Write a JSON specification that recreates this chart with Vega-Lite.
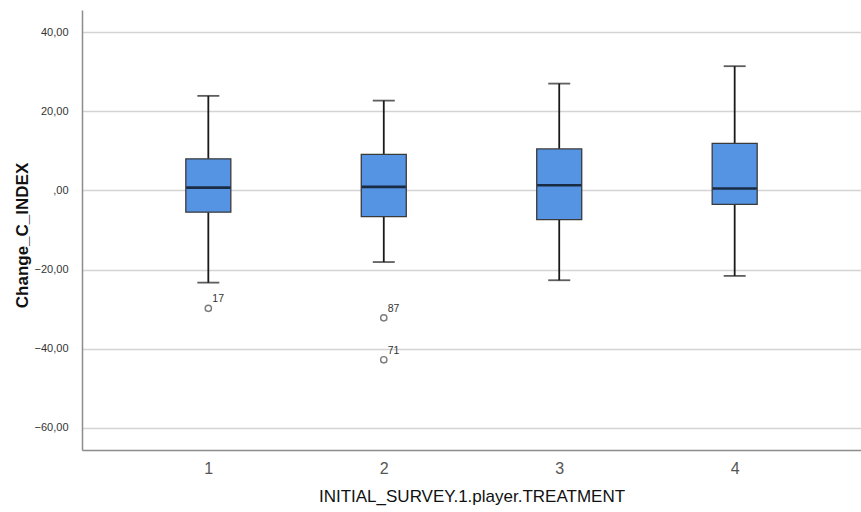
{
  "$schema": "https://vega.github.io/schema/vega-lite/v6.json",
  "width": 779,
  "height": 440,
  "autosize": {"type": "none"},
  "padding": {"left": 82, "top": 10, "right": 0, "bottom": 62},
  "background": "white",
  "config": {"view": {"stroke": null}, "font": "Liberation Sans"},
  "datasets": {
    "boxes": [
      {"treatment": "1", "lower": -23.3, "q1": -5.5, "median": 0.7, "q3": 8.0, "upper": 23.9},
      {"treatment": "2", "lower": -18.1, "q1": -6.6, "median": 0.9, "q3": 9.1, "upper": 22.7},
      {"treatment": "3", "lower": -22.7, "q1": -7.4, "median": 1.3, "q3": 10.5, "upper": 27.0},
      {"treatment": "4", "lower": -21.6, "q1": -3.5, "median": 0.5, "q3": 11.9, "upper": 31.4}
    ],
    "outliers": [
      {"treatment": "1", "value": -29.8, "case": "17"},
      {"treatment": "2", "value": -32.2, "case": "87"},
      {"treatment": "2", "value": -42.8, "case": "71"}
    ]
  },
  "layer": [
    {
      "data": {"name": "boxes"},
      "mark": {"type": "rule", "color": "#1a1a1a", "strokeWidth": 1.8},
      "encoding": {
        "x": {
          "field": "treatment", "type": "nominal",
          "scale": {"type": "point", "padding": 0.72, "domain": ["1", "2", "3", "4"]},
          "axis": {
            "title": "INITIAL_SURVEY.1.player.TREATMENT",
            "titleFontSize": 17, "titleFontWeight": "normal", "titleColor": "#111",
            "titlePadding": 12,
            "labelFontSize": 16, "labelColor": "#555", "labelPadding": 10, "labelAngle": 0,
            "ticks": false, "domainColor": "#8c8c8c", "domainWidth": 1.5, "grid": false
          }
        },
        "y": {
          "field": "lower", "type": "quantitative",
          "scale": {"domain": [-65.6, 45.6], "nice": false, "zero": false},
          "axis": {
            "title": "Change_C_INDEX",
            "titleFontSize": 17, "titleFontWeight": "bold", "titleColor": "#111",
            "titleX": -60, "titleY": 225, "titleBaseline": "middle",
            "values": [-60, -40, -20, 0, 20, 40],
            "labelExpr": "datum.value == 0 ? ',00' : replace(format(datum.value, '.2f'), '.', ',')",
            "labelFontSize": 11, "labelColor": "#333", "labelPadding": 14,
            "ticks": false, "domainColor": "#8c8c8c", "domainWidth": 1.5,
            "grid": true, "gridColor": "#d4d4d4", "gridWidth": 1.5
          }
        },
        "y2": {"field": "q1"}
      }
    },
    {
      "data": {"name": "boxes"},
      "mark": {"type": "rule", "color": "#1a1a1a", "strokeWidth": 1.8},
      "encoding": {
        "x": {"field": "treatment", "type": "nominal"},
        "y": {"field": "q3", "type": "quantitative"},
        "y2": {"field": "upper"}
      }
    },
    {
      "data": {"name": "boxes"},
      "mark": {"type": "tick", "orient": "horizontal", "color": "#1a1a1a", "size": 22, "thickness": 1.8},
      "encoding": {
        "x": {"field": "treatment", "type": "nominal"},
        "y": {"field": "upper", "type": "quantitative"}
      }
    },
    {
      "data": {"name": "boxes"},
      "mark": {"type": "tick", "orient": "horizontal", "color": "#1a1a1a", "size": 22, "thickness": 1.8},
      "encoding": {
        "x": {"field": "treatment", "type": "nominal"},
        "y": {"field": "lower", "type": "quantitative"}
      }
    },
    {
      "data": {"name": "boxes"},
      "mark": {"type": "bar", "size": 45, "fill": "#5594e2", "stroke": "#3a3a3a", "strokeWidth": 1.3},
      "encoding": {
        "x": {"field": "treatment", "type": "nominal"},
        "y": {"field": "q1", "type": "quantitative"},
        "y2": {"field": "q3"}
      }
    },
    {
      "data": {"name": "boxes"},
      "mark": {"type": "tick", "orient": "horizontal", "color": "#000000", "size": 44, "thickness": 2.6},
      "encoding": {
        "x": {"field": "treatment", "type": "nominal"},
        "y": {"field": "median", "type": "quantitative"}
      }
    },
    {
      "data": {"name": "outliers"},
      "mark": {"type": "point", "shape": "circle", "size": 40, "filled": false, "stroke": "#444", "strokeWidth": 1.4},
      "encoding": {
        "x": {"field": "treatment", "type": "nominal"},
        "y": {"field": "value", "type": "quantitative"}
      }
    },
    {
      "data": {"name": "outliers"},
      "mark": {"type": "text", "align": "left", "baseline": "middle", "dx": 4, "dy": -9, "fontSize": 10.5, "color": "#333"},
      "encoding": {
        "x": {"field": "treatment", "type": "nominal"},
        "y": {"field": "value", "type": "quantitative"},
        "text": {"field": "case"}
      }
    }
  ]
}
